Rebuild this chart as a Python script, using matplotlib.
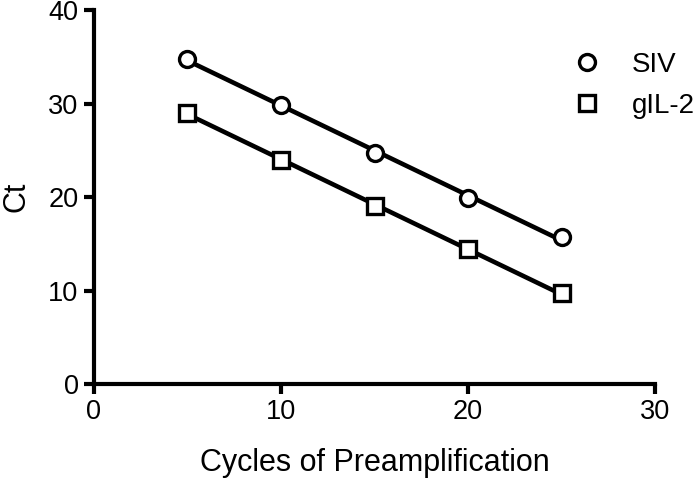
import numpy as np
import matplotlib.pyplot as plt

plt.rcParams['font.family'] = ['Liberation Sans', 'DejaVu Sans']

cycles = [5, 10, 15, 20, 25]
siv_ct = [34.8, 29.8, 24.7, 19.9, 15.7]
il2_ct = [29.0, 24.0, 19.0, 14.4, 9.7]

fig = plt.figure(figsize=(7, 4.8), dpi=100)
ax = fig.add_axes([0.134, 0.2, 0.802, 0.779])

x_fit = np.array([cycles[0], cycles[-1]])
for y, marker, name in [(siv_ct, 'o', 'SIV'), (il2_ct, 's', 'gIL-2')]:
    k, b = np.polyfit(cycles, y, 1)
    ax.plot(x_fit, k * x_fit + b, color='black', lw=3.3, zorder=2)
    ax.plot(cycles, y, linestyle='none', marker=marker, markersize=11.5,
            markerfacecolor='white', markeredgecolor='black',
            markeredgewidth=2.4, label=name, zorder=3)

ax.set_xlim(0, 30)
ax.set_ylim(0, 40)
ax.set_xticks([0, 10, 20, 30])
ax.set_yticks([0, 10, 20, 30, 40])
ax.spines['top'].set_visible(False)
ax.spines['right'].set_visible(False)
for s in ['left', 'bottom']:
    ax.spines[s].set_linewidth(3)
ax.tick_params(width=3, length=7, labelsize=19.5, pad=4)
ax.set_xlabel('Cycles of Preamplification', size=22, labelpad=16)
ax.set_ylabel('Ct', size=22, labelpad=12)
ax.legend(loc='upper left', bbox_to_anchor=(0.81, 0.955), frameon=False,
          fontsize=20, handlelength=1, handletextpad=1.1, labelspacing=0.55)

fig.savefig('out.png', dpi=100)
